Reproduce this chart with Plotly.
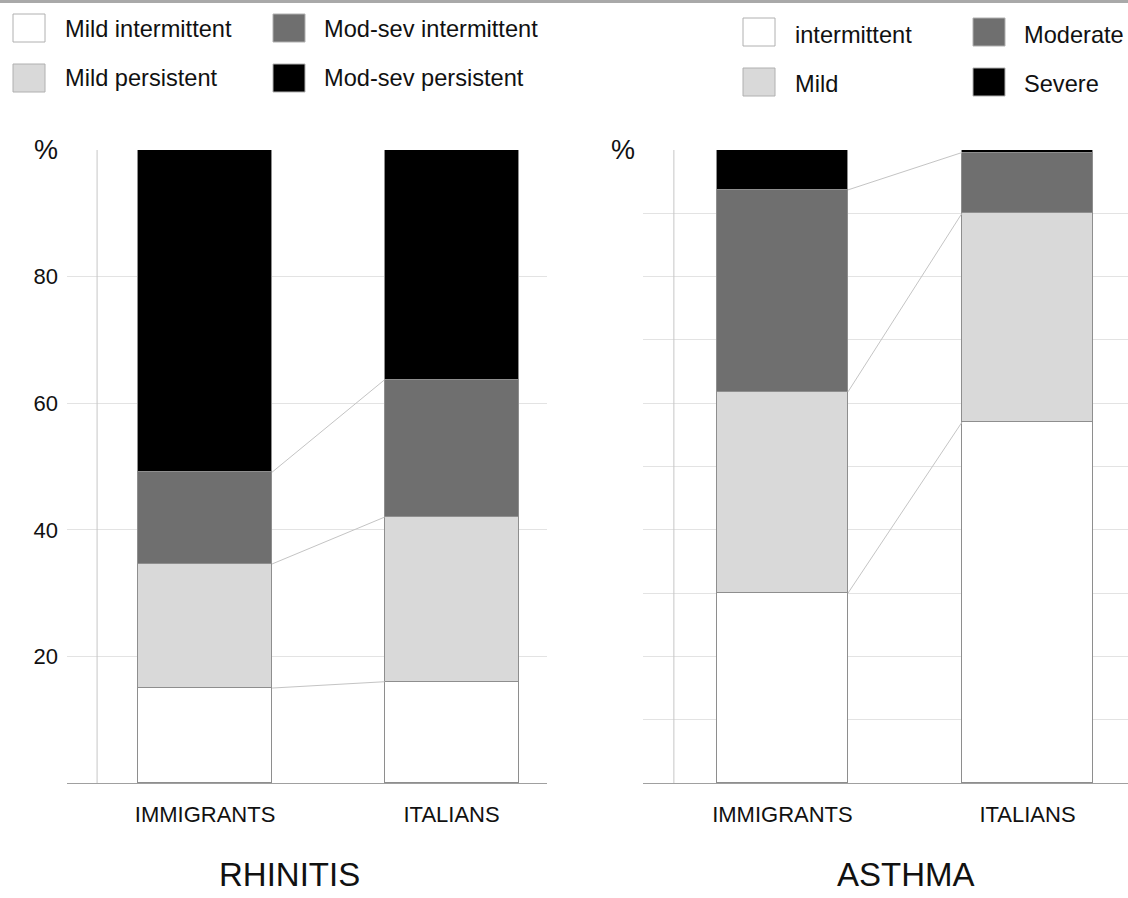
import plotly.graph_objects as go

W, H = 1128, 898

groups = ["IMMIGRANTS", "ITALIANS"]

rhinitis_labels = ["Mild intermittent", "Mild persistent", "Mod-sev intermittent", "Mod-sev persistent"]
rhinitis_values = {
    "Mild intermittent": [15.0, 16.0],
    "Mild persistent": [19.6, 26.0],
    "Mod-sev intermittent": [14.5, 21.7],
    "Mod-sev persistent": [50.9, 36.3],
}

asthma_labels = ["intermittent", "Mild", "Moderate", "Severe"]
asthma_values = {
    "intermittent": [30.0, 57.0],
    "Mild": [31.8, 33.0],
    "Moderate": [31.9, 9.6],
    "Severe": [6.3, 0.4],
}

y_ticks = [20, 40, 60, 80]
panel_titles = ["RHINITIS", "ASTHMA"]

colors = ["#ffffff", "#d9d9d9", "#6f6f6f", "#000000"]
FONT = "Liberation Sans, Arial, sans-serif"
TXT = "#111111"

def px(x):
    return x / W

def py(y):
    return 1 - y / H

fig = go.Figure()

panels = [
    dict(labels=rhinitis_labels, values=rhinitis_values, xa="x", ya="y", width=0.5436),
    dict(labels=asthma_labels, values=asthma_values, xa="x2", ya="y2", width=0.535),
]

for p in panels:
    for lab, col in zip(p["labels"], colors):
        fig.add_trace(go.Bar(
            x=[0, 1], y=p["values"][lab], width=p["width"],
            marker=dict(color=col, line=dict(color="#8e8e8e", width=1)),
            xaxis=p["xa"], yaxis=p["ya"], showlegend=False, hoverinfo="skip",
        ))
    # connecting lines between stacked boundaries
    cum0, cum1 = 0.0, 0.0
    hw = p["width"] / 2
    for lab in p["labels"][:-1]:
        cum0 += p["values"][lab][0]
        cum1 += p["values"][lab][1]
        fig.add_trace(go.Scatter(
            x=[0 + hw, 1 - hw], y=[cum0, cum1], mode="lines",
            line=dict(color="#c4c4c4", width=1),
            xaxis=p["xa"], yaxis=p["ya"], showlegend=False, hoverinfo="skip",
        ))

ydom = [py(783), py(150)]
axis_common = dict(showgrid=False, zeroline=False, showline=True, linecolor="#a0a0a0",
                   linewidth=1, tickvals=[0, 1], ticktext=groups, ticks="",
                   tickfont=dict(family=FONT, size=22, color=TXT),
                   ticklabelstandoff=12, fixedrange=True)
yaxis_common = dict(range=[0, 100], dtick=10, showgrid=True, gridcolor="#e3e3e3",
                    gridwidth=1, zeroline=False, showline=False, ticks="", fixedrange=True,
                    ticklabelstandoff=8,
                    tickfont=dict(family=FONT, size=22, color=TXT))

fig.update_layout(
    width=W, height=H,
    margin=dict(l=0, r=0, t=0, b=0),
    paper_bgcolor="white", plot_bgcolor="white",
    barmode="stack", bargap=0,
    showlegend=False,
    xaxis=dict(domain=[px(67), px(547)], range=[-0.560, 1.387], anchor="y", **axis_common),
    yaxis=dict(domain=ydom, anchor="x", tickmode="array", tickvals=y_ticks,
               ticktext=[str(t) for t in y_ticks], showticklabels=True, **yaxis_common),
    xaxis2=dict(domain=[px(643), 1.0], range=[-0.569, 1.410], anchor="y2", **axis_common),
    yaxis2=dict(domain=ydom, anchor="x2", tickmode="linear", tick0=0, showticklabels=False,
                **yaxis_common),
)

shapes = []
# y-axis vertical lines
shapes.append(dict(type="line", xref="x", yref="y", x0=-0.438, x1=-0.438, y0=0, y1=100,
                   line=dict(color="#c6c6c6", width=1), layer="between"))
shapes.append(dict(type="line", xref="x2", yref="y2", x0=-0.443, x1=-0.443, y0=0, y1=100,
                   line=dict(color="#c6c6c6", width=1), layer="between"))
# top grey band
shapes.append(dict(type="rect", xref="paper", yref="paper", x0=0, x1=1, y0=py(3), y1=1,
                   fillcolor="#a9a9a9", line=dict(width=0)))

annotations = []
# legends
legend_specs = [
    (rhinitis_labels, [(13, 14), (13, 64), (273, 14), (273, 64)], [63, 63, 322, 322], [29, 78, 29, 78]),
    (asthma_labels, [(743, 18), (743, 68), (973, 18), (973, 68)], [793, 793, 1022, 1022], [35, 84, 35, 84]),
]
for labels, boxes, tx, ty in legend_specs:
    for i, lab in enumerate(labels):
        bx, by = boxes[i]
        shapes.append(dict(type="rect", xref="paper", yref="paper",
                           x0=px(bx), x1=px(bx + 32), y0=py(by + 28), y1=py(by),
                           fillcolor=colors[i], line=dict(color="#b0b0b0", width=1)))
        annotations.append(dict(xref="paper", yref="paper", x=px(tx[i]), y=py(ty[i]),
                                text=lab, showarrow=False, xanchor="left", yanchor="middle",
                                font=dict(family=FONT, size=23.6, color=TXT)))

# percent signs
for xr in [60, 637]:
    annotations.append(dict(xref="paper", yref="paper", x=px(xr), y=py(150), text="%",
                            showarrow=False, xanchor="right", yanchor="middle",
                            font=dict(family=FONT, size=27, color=TXT)))

# panel titles
for t, xc in zip(panel_titles, [289, 906]):
    annotations.append(dict(xref="paper", yref="paper", x=px(xc), y=py(874), text=t,
                            showarrow=False, xanchor="center", yanchor="middle",
                            font=dict(family=FONT, size=33, color=TXT)))

fig.update_layout(shapes=shapes, annotations=annotations)
fig.write_html("out.html", config={"displayModeBar": False},
               post_script="document.body.style.margin='0';document.body.style.overflow='hidden';")
